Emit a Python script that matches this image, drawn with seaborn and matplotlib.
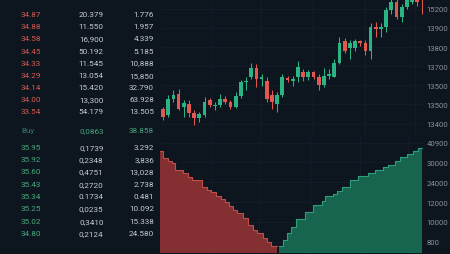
import numpy as np
import pandas as pd
import seaborn as sns
import matplotlib
matplotlib.use("Agg")
import matplotlib.pyplot as plt

# ---------------- data ----------------
# order book (asks on top, bids below)
ask_prices = ["34.87", "34.88", "34.58", "34.45", "34.33", "34.29", "34.14", "34.00", "33.54"]
ask_amounts = ["20.379", "11.550", "16,900", "50.192", "11.545", "13.054", "15.420", "13,300", "54.179"]
ask_totals = ["1.776", "1.957", "4.339", "5.185", "10,888", "15,850", "32.790", "63.928", "13.505"]
mid_label = ["Buy", "0,0863", "38.858"]
bid_prices = ["35.95", "35.92", "35.60", "35.43", "35.34", "35.25", "35.02", "34.80"]
bid_amounts = ["0,1739", "0,2348", "0,4751", "0,2720", "0.1734", "0,0235", "0,3410", "0,2124"]
bid_totals = ["3.292", "3,836", "13,028", "2.738", "0.481", "10.092", "15.338", "24.580"]

# candlesticks
opens = [13478, 13445, 13530, 13555, 13487, 13504, 13453, 13427, 13445, 13522,
         13491, 13496, 13530, 13513, 13487, 13542, 13615, 13641, 13692, 13632,
         13624, 13547, 13504, 13547, 13636, 13624, 13641, 13672, 13645, 13667,
         13641, 13604, 13650, 13645, 13718, 13832, 13795, 13795, 13829, 13820,
         13778, 13903, 13894, 13906, 13991, 14034, 13957, 14009, 14034, 14082,
         14082]
closes = [13436, 13530, 13552, 13478, 13508, 13453, 13427, 13451, 13513, 13496,
          13499, 13530, 13513, 13487, 13542, 13615, 13624, 13692, 13632, 13641,
          13530, 13513, 13547, 13641, 13627, 13632, 13696, 13641, 13667, 13641,
          13604, 13650, 13658, 13718, 13820, 13778, 13820, 13829, 13820, 13778,
          13906, 13894, 13903, 13991, 14034, 13957, 14009, 14072, 14092, 14034,
          14056]
highs = [13487, 13547, 13574, 13579, 13525, 13523, 13472, 13462, 13538, 13535,
         13513, 13555, 13542, 13522, 13564, 13627, 13641, 13718, 13709, 13658,
         13641, 13573, 13564, 13658, 13650, 13650, 13727, 13684, 13678, 13675,
         13658, 13692, 13684, 13735, 13855, 13846, 13837, 13843, 13837, 13837,
         13923, 13932, 13923, 14009, 14062, 14056, 14026, 14092, 14113, 14103,
         14092]
lows = [13419, 13436, 13513, 13472, 13436, 13436, 13395, 13410, 13436, 13487,
        13472, 13487, 13504, 13478, 13484, 13535, 13574, 13632, 13590, 13598,
        13513, 13478, 13462, 13538, 13615, 13598, 13615, 13624, 13627, 13632,
        13573, 13590, 13632, 13641, 13709, 13769, 13735, 13778, 13804, 13761,
        13735, 13855, 13855, 13880, 13974, 13945, 13932, 14000, 14026, 14017,
        13974]
price_ticks = [13400, 13500, 13600, 13700, 13800, 13900, 14000]
price_tick_labels = ["13400", "13500", "13500", "13700", "13800", "13900", "15200"]

# depth chart (step levels)
bid_levels = [34.00, 34.03, 34.08, 34.12, 34.15, 34.23, 34.28, 34.32, 34.42, 34.47,
              34.51, 34.56, 34.61, 34.65, 34.69, 34.73, 34.77, 34.83, 34.88, 34.93,
              34.97, 35.03, 35.07, 35.11]
bid_depth = [35950, 33480, 32630, 31820, 29340, 28180, 26970, 25910, 23440, 22380,
             21460, 20260, 19090, 17920, 16720, 15310, 14140, 12270, 9900, 8240,
             7070, 5410, 4000, 2370]
bid_end = 35.17
ask_levels = [35.19, 35.23, 35.27, 35.31, 35.36, 35.45, 35.53, 35.62, 35.65, 35.73,
              35.77, 35.82, 35.90, 35.98, 36.08, 36.15, 36.23, 36.28, 36.35, 36.40,
              36.47, 36.53, 36.58]
ask_depth = [2370, 4600, 7070, 9190, 12020, 14600, 16970, 18280, 20050, 20860,
             22030, 23440, 25910, 27330, 28280, 29340, 30300, 31110, 32630, 33830,
             35000, 36170, 37020]
ask_end = 36.62
depth_ticks = [4000, 11000, 18000, 25000, 32000, 39000]
depth_tick_labels = ["800", "10000", "12000", "24000", "30000", "40900"]

# ---------------- style ----------------
BG = "#0d151f"
GRID = "#151f2a"
UP = "#2bb383"
DOWN = "#e0584f"
TXT = "#c6cbd2"
AXT = "#8a919b"
RED_TXT = "#d8584e"
GREEN_TXT = "#47a97d"

sns.set_theme(style="dark", rc={
    "figure.facecolor": BG, "axes.facecolor": BG, "savefig.facecolor": BG,
    "axes.edgecolor": BG, "grid.color": GRID, "grid.linewidth": 0.5,
})
plt.rcParams["font.family"] = ["Roboto", "DejaVu Sans"]

fig = plt.figure(figsize=(4.5, 2.55), dpi=100)
W, H = 450.0, 255.0

# ---------------- order book table ----------------
axt = fig.add_axes([0, 0, 160 / W, 1])
axt.set_xlim(0, 160)
axt.set_ylim(255, 0)
axt.axis("off")
fs = 5.9
ask_rows_y = np.linspace(15.3, 112, len(ask_prices))
for y, p, a, t in zip(ask_rows_y, ask_prices, ask_amounts, ask_totals):
    axt.text(21, y, p, color=RED_TXT, fontsize=fs, va="center", ha="left")
    axt.text(103.5, y, a, color=TXT, fontsize=fs, va="center", ha="right")
    axt.text(154, y, t, color=TXT, fontsize=fs, va="center", ha="right")
axt.text(21, 130.7, mid_label[0], color="#2f7f5e", fontsize=fs, va="center", ha="left")
axt.text(103.5, 130.7, mid_label[1], color=GREEN_TXT, fontsize=fs, va="center", ha="right")
axt.text(154, 130.7, mid_label[2], color=GREEN_TXT, fontsize=fs, va="center", ha="right")
bid_rows_y = np.linspace(147.7, 234, len(bid_prices))
for y, p, a, t in zip(bid_rows_y, bid_prices, bid_amounts, bid_totals):
    axt.text(21, y, p, color=GREEN_TXT, fontsize=fs, va="center", ha="left")
    axt.text(103.5, y, a, color=TXT, fontsize=fs, va="center", ha="right")
    axt.text(154, y, t, color=TXT, fontsize=fs, va="center", ha="right")

# ---------------- candlestick ----------------
axc = fig.add_axes([160 / W, 1 - 138 / H, 263 / W, 138 / H])
df = pd.DataFrame({"o": opens, "c": closes, "h": highs, "l": lows})
df["i"] = np.arange(len(df))
df["up"] = df["c"] >= df["o"]
colors = np.where(df["up"], UP, DOWN)
axc.vlines(df["i"], df["l"], df["h"], colors=colors, linewidth=0.75, zorder=2)
body_lo = np.minimum(df["o"], df["c"])
body_h = np.maximum(np.abs(df["c"] - df["o"]), 4)
axc.bar(df["i"], body_h, bottom=body_lo, width=0.72, color=colors, linewidth=0, zorder=3)
axc.set_xlim(-0.58, 50.1)
axc.set_ylim(13330, 14051)
axc.set_yticks(price_ticks)
axc.set_yticklabels(price_tick_labels)
axc.set_xticks([9.5, 18.9, 28.9, 38.9, 48.5])
axc.set_xticklabels([])
axc.yaxis.tick_right()
axc.tick_params(axis="y", colors=AXT, labelsize=5.6, length=0, pad=2.5)
axc.tick_params(axis="x", length=0)
axc.grid(True, color=GRID, linewidth=0.5)
for s in axc.spines.values():
    s.set_visible(False)

# ---------------- depth chart ----------------
axd = fig.add_axes([160 / W, 0, 263 / W, 117 / H])
bx = bid_levels + [bid_end]
by = bid_depth + [bid_depth[-1]]
ax_ = ask_levels + [ask_end]
ay = ask_depth + [ask_depth[-1]]
axd.fill_between(bx, by, step="post", color="#843033", linewidth=0, zorder=2)
axd.fill_between(ax_, ay, step="post", color="#17654f", linewidth=0, zorder=2)
sns.lineplot(x=bx, y=by, ax=axd, drawstyle="steps-post", color="#c04e47",
             linewidth=0.8, estimator=None, sort=False, zorder=3)
sns.lineplot(x=ax_, y=ay, ax=axd, drawstyle="steps-post", color="#2d9f7a",
             linewidth=0.8, estimator=None, sort=False, zorder=3)
axd.set_xlim(34.00, 36.63)
axd.set_ylim(-350, 41000)
axd.set_yticks(depth_ticks)
axd.set_yticklabels(depth_tick_labels)
axd.set_xticks([34.52, 34.99, 35.50, 36.00, 36.48])
axd.set_xticklabels([])
axd.yaxis.tick_right()
axd.tick_params(axis="y", colors=AXT, labelsize=5.6, length=0, pad=2.5)
axd.tick_params(axis="x", length=0)
axd.grid(True, color=GRID, linewidth=0.5)
axd.set_xlabel("")
axd.set_ylabel("")
for s in axd.spines.values():
    s.set_visible(False)

fig.savefig("out.png", dpi=100, facecolor=BG)
